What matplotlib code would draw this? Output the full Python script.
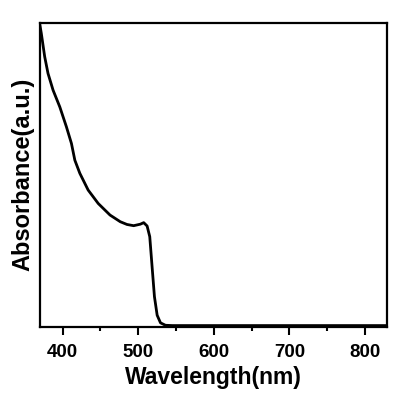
import numpy as np
import matplotlib
matplotlib.use("Agg")
import matplotlib.pyplot as plt
from matplotlib.ticker import MultipleLocator

plt.rcParams['font.family'] = ['Liberation Sans', 'DejaVu Sans']
plt.rcParams['font.weight'] = 'bold'

# absorbance spectrum (arbitrary units, 0..1)
wavelength = [370, 371.7, 376.2, 380.6, 387.3, 396.2, 404.9, 411.6, 416.1, 422.7,
              433.7, 447.0, 462.6, 476.2, 485.1, 493.9, 502.8, 507.2, 511.7, 515.2,
              518.3, 521.4, 525.0, 529.4, 536, 545, 600, 700, 829]
absorbance = [0.99, 0.965, 0.888, 0.833, 0.778, 0.723, 0.658, 0.603, 0.548, 0.505,
              0.450, 0.406, 0.368, 0.346, 0.337, 0.333, 0.338, 0.343, 0.332, 0.297,
              0.198, 0.100, 0.039, 0.014, 0.006, 0.005, 0.005, 0.005, 0.005]

fig = plt.figure(figsize=(4.18, 3.96), dpi=100)
ax = fig.add_axes([0.0957, 0.174, 0.830, 0.769])

ax.plot(wavelength, absorbance, color='black', lw=2.0)

ax.set_xlim(370, 829)
ax.set_ylim(0, 1)
ax.xaxis.set_major_locator(MultipleLocator(100))
ax.xaxis.set_minor_locator(MultipleLocator(50))
ax.set_yticks([])
ax.tick_params(axis='x', which='major', direction='out', length=5.5, width=1.5,
               labelsize=13.5, pad=7)
ax.tick_params(axis='x', which='minor', direction='out', length=3, width=1.5)
for s in ax.spines.values():
    s.set_linewidth(1.6)

ax.set_xlabel("Wavelength(nm)", fontsize=16.5, fontweight='bold', labelpad=3)
ax.set_ylabel("Absorbance(a.u.)", fontsize=17, fontweight='bold', labelpad=4)

fig.savefig("out.png", dpi=100)
